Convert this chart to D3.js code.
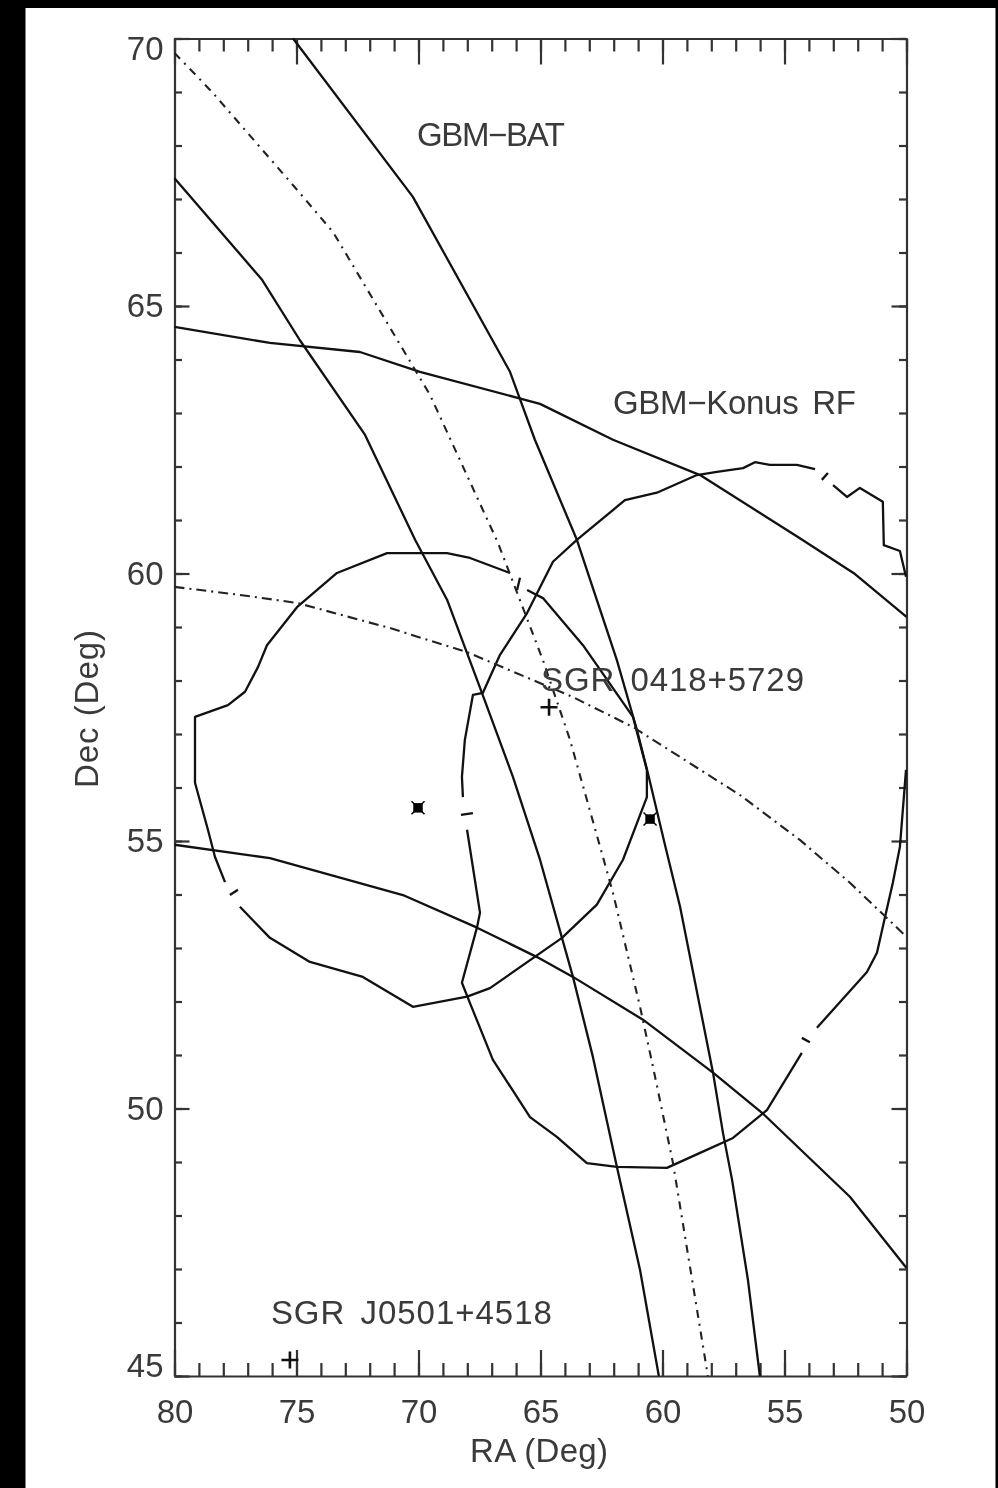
<!DOCTYPE html>
<html>
<head>
<meta charset="utf-8">
<title>GBM localisation</title>
<script src="https://cdn.jsdelivr.net/npm/d3@7"></script>
<style>
html, body { margin: 0; padding: 0; background: #000; }
svg { display: block; filter: blur(0.7px); }
text { font-family: "Liberation Sans", sans-serif; fill: #3a3a3a; }
</style>
</head>
<body>
<div id="vis"></div>
<script>
// all curves are [RA, Dec] in degrees
const batLeft = [[80,67.39],[76.41,65.49],[74.86,64.36],[72.19,62.59],[70.14,60.63],[68.83,59.51],[67.4,57.77],[66.13,56.2],[65.02,54.65],[64.12,53.19],[63.67,52.46],[62.85,50.96],[61.87,48.91],[60.92,46.98],[60.15,45]];
const batRight = [[75.14,70],[70.23,67.04],[66.25,63.77],[65.23,62.5],[63.51,60.63],[61.87,58.38],[61.05,57.08],[60.6,56.27],[59.9,54.93],[59.28,53.77],[57.93,50.67],[57.52,49.54],[57.15,48.67],[56.5,46.8],[56.01,45]];
const batCentre = [[80,69.73],[78.46,69],[74.86,67.11],[73.5,66.38],[69.53,63.34],[66.74,60.57],[64.9,58.38],[63.79,56.89],[62.52,54.83],[62.03,54.03],[60.92,51.9],[60.39,50.78],[59.57,48.98],[58.14,45]];
const konusRfTop = [[80,64.61],[76.09,64.31],[72.4,64.14],[69.94,63.77],[65.02,63.17],[62.03,62.5],[58.46,61.84],[54.37,60.66],[52.11,59.99],[50,59.19]];
const konusRfCentre = [[80,59.75],[77.32,59.6],[74.98,59.45],[71.17,58.98],[68.01,58.53],[63.67,57.69],[61.21,57.13],[56.83,55.86],[54.37,55.02],[52.32,54.22],[50,53.21]];
const konusRfLow = [[80,54.93],[76.09,54.68],[70.64,53.99],[67.6,53.38],[65.14,52.83],[63.67,52.46],[60.8,51.66],[57.93,50.67],[55.92,49.92],[52.32,48.35],[50,47.02]];

// the two error contours, broken where the contour levels were labelled
const leftContourA = [[77.93,54.23],[78.34,54.7],[78.63,55.21],[79.16,56.09],[79.16,57.32],[77.81,57.54],[77.11,57.79],[76.58,58.25],[76.21,58.66],[74.98,59.37],[73.34,60.01],[71.29,60.38],[68.83,60.38],[67.89,60.29],[66.25,60.01]];
const leftContourB = [[65.55,59.69],[64.9,59.54],[63.26,58.66],[61.21,57.32],[60.64,56.33],[60.64,55.82],[61.62,54.65],[62.69,53.81],[64.12,53.19],[67.07,52.25],[68.01,52.09],[70.23,51.9],[72.28,52.46],[74.45,52.74],[76.09,53.19],[77.32,53.77]];
const leftTickA = [[65.84,59.92],[65.96,59.69]];
const leftTickB = [[77.73,53.99],[77.4,54.09]];
const rightContourA = [[68.18,55.82],[68.22,56.2],[68.1,56.89],[67.77,57.73],[67.36,57.77],[66.66,58.48],[65.55,59.26],[64.49,60.22],[63.51,60.63],[61.54,61.37],[60.23,61.51],[58.59,61.84],[57.77,61.9],[56.7,61.97],[56.21,62.08],[55.6,62.03],[54.49,62.03],[53.75,61.95]];
const rightContourB = [[53.01,61.65],[52.44,61.43],[51.91,61.6],[50.97,61.34],[50.93,60.53],[50.27,60.42],[50.02,59.94]];
const rightContourC = [[50.02,56.33],[50.27,54.89],[50.56,54.22],[50.88,53.58],[51.21,52.91],[51.62,52.55],[53.67,51.51]];
const rightContourD = [[54.29,51.04],[55.72,49.97],[57.11,49.45],[58.46,49.17],[59.82,48.89],[61.87,48.91],[63.1,48.98],[64.33,49.47],[65.43,49.84],[66.95,50.91],[67.89,51.97],[68.22,52.35],[67.6,53.39],[67.48,53.66],[68.01,55.21]];
const rightTickA = [[53.47,61.75],[53.22,61.88]];
const rightTickB = [[53.96,51.24],[54.29,51.32]];
const rightTickC = [[68.26,55.49],[67.77,55.52]];

const sgrPoints = [[64.65,57.5],[75.27,45.3]];
const centrePoints = [[70.02,55.62],[60.51,55.41]];

const labelNames = ["GBM\u2212BAT", "GBM\u2212Konus RF", "SGR 0418+5729", "SGR J0501+4518"];
const labelRa = [70.06, 62.03, 64.98, 76.05];
const labelDec = [67.99, 62.98, 57.8, 45.97];

const raMajor = [80, 75, 70, 65, 60, 55, 50];
const decMajor = [70, 65, 60, 55, 50, 45];
const raMinor = d3.range(50, 81);
const decMinor = d3.range(45, 71);

const width = 998, height = 1488;
const plotLeft = 174.5, plotRight = 906.5, plotTop = 38.5, plotBottom = 1376;
const fontSize = 33;
const labelLengths = [148, 243, 263, 281];

const svg = d3.select("#vis").append("svg").attr("width", width).attr("height", height);
svg.append("rect").attr("x", 0).attr("y", 0).attr("width", width).attr("height", height).attr("fill", "#000");
svg.append("rect").attr("x", 25.5).attr("y", 8).attr("width", 970).attr("height", 1490).attr("fill", "#fff");

const x = d3.scaleLinear().domain([80, 50]).range([plotLeft, plotRight]);
const y = d3.scaleLinear().domain([45, 70]).range([plotBottom, plotTop]);

function addAxis(axis, tx, ty, labelled){
    const g = svg.append("g").attr("transform", "translate(" + tx + "," + ty + ")").call(axis);
    g.selectAll("path, line").attr("stroke", "#333").attr("stroke-width", 2.2);
    g.selectAll("text").style("font-size", fontSize + "px").style("font-family", '"Liberation Sans", sans-serif').attr("fill", "#3a3a3a");
    if (!labelled) g.selectAll("text").remove();
    return g;
}

// major ticks carry the frame and the labels, minor ticks are half as long
addAxis(d3.axisBottom(x).tickValues(raMajor).tickFormat(d3.format("d")).tickSizeInner(-26).tickSizeOuter(0).tickPadding(24), 0, plotBottom, true);
addAxis(d3.axisTop(x).tickValues(raMajor).tickSizeInner(-26).tickSizeOuter(0), 0, plotTop, false);
const yAxis = addAxis(d3.axisLeft(y).tickValues(decMajor).tickFormat(d3.format("d")).tickSizeInner(-15).tickSizeOuter(0).tickPadding(11), plotLeft, 0, true);
addAxis(d3.axisRight(y).tickValues(decMajor).tickSizeInner(-15).tickSizeOuter(0), plotRight, 0, false);
addAxis(d3.axisBottom(x).tickValues(raMinor).tickSizeInner(-13).tickSizeOuter(0), 0, plotBottom, false).select(".domain").remove();
addAxis(d3.axisTop(x).tickValues(raMinor).tickSizeInner(-13).tickSizeOuter(0), 0, plotTop, false).select(".domain").remove();
addAxis(d3.axisLeft(y).tickValues(decMinor).tickSizeInner(-7.5).tickSizeOuter(0), plotLeft, 0, false).select(".domain").remove();
addAxis(d3.axisRight(y).tickValues(decMinor).tickSizeInner(-7.5).tickSizeOuter(0), plotRight, 0, false).select(".domain").remove();

// end labels sit inside the frame height, as in the original plot
yAxis.selectAll(".tick text").attr("transform", function(d){
    if (d === 70) return "translate(0,10)";
    if (d === 45) return "translate(0,-10)";
    return null;
});

const line = d3.line().x(function(d){ return x(d[0]); }).y(function(d){ return y(d[1]); });

const solidCurves = [batLeft, batRight, konusRfTop, konusRfLow,
    leftContourA, leftContourB, leftTickA, leftTickB,
    rightContourA, rightContourB, rightContourC, rightContourD, rightTickA, rightTickB, rightTickC];

svg.append("g").selectAll("path").data(solidCurves).enter().append("path")
    .attr("d", line).attr("fill", "none").attr("stroke", "#111").attr("stroke-width", 2.3)
    .attr("stroke-linejoin", "round");

svg.append("path").attr("d", line(batCentre)).attr("fill", "none").attr("stroke", "#222")
    .attr("stroke-width", 2.1).attr("stroke-dasharray", "8 6 2 6");
svg.append("path").attr("d", line(konusRfCentre)).attr("fill", "none").attr("stroke", "#222")
    .attr("stroke-width", 2.1).attr("stroke-dasharray", "10 5 2 5");

// plus signs for the two SGRs
svg.append("g").selectAll("path").data(sgrPoints).enter().append("path")
    .attr("transform", function(d){ return "translate(" + x(d[0]) + "," + y(d[1]) + ")"; })
    .attr("d", "M-8.5,0H8.5M0,-8.5V8.5").attr("stroke", "#111").attr("stroke-width", 2.6).attr("fill", "none");

// square with a cross through it for the localisation centres
const centres = svg.append("g").selectAll("g").data(centrePoints).enter().append("g")
    .attr("transform", function(d){ return "translate(" + x(d[0]) + "," + y(d[1]) + ")"; });
centres.append("path").attr("d", d3.symbol().type(d3.symbolSquare).size(90)).attr("fill", "#000");
centres.append("path").attr("d", "M-6.5,-6.5L6.5,6.5M-6.5,6.5L6.5,-6.5").attr("stroke", "#000").attr("stroke-width", 1.5);

svg.append("g").selectAll("text").data(labelNames).enter().append("text")
    .attr("x", function(d, i){ return x(labelRa[i]); })
    .attr("y", function(d, i){ return y(labelDec[i]); })
    .attr("textLength", function(d, i){ return labelLengths[i]; })
    .style("font-size", fontSize + "px")
    .style("word-spacing", "5px")
    .text(function(d){ return d; });

svg.append("text").attr("x", 539).attr("y", 1462).attr("text-anchor", "middle")
    .attr("textLength", 138).style("font-size", fontSize + "px").text("RA (Deg)");
svg.append("text").attr("transform", "translate(98,709) rotate(-90)").attr("text-anchor", "middle")
    .attr("textLength", 158).style("font-size", fontSize + "px").text("Dec (Deg)");
</script>
</body>
</html>
